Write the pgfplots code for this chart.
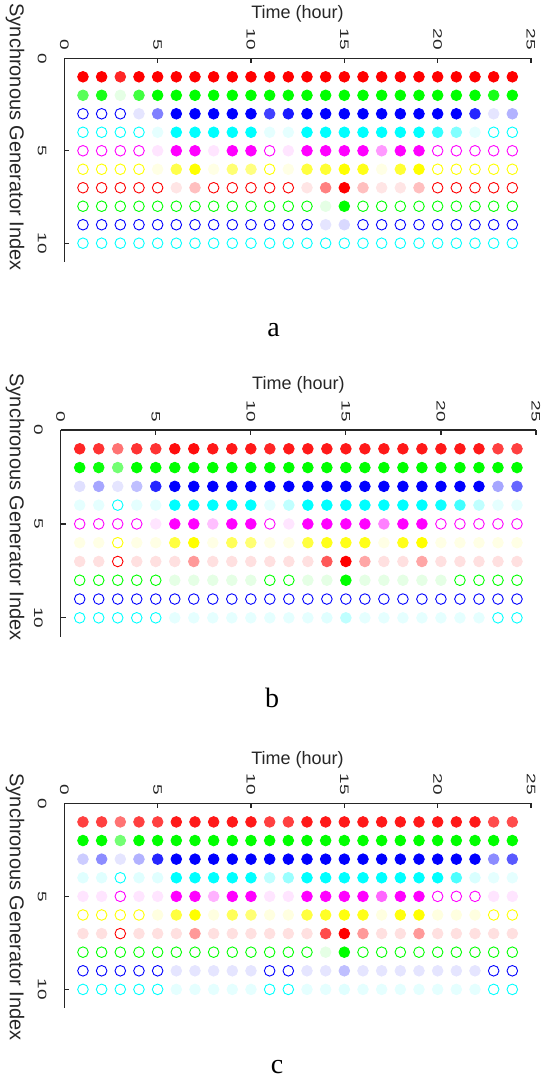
\documentclass[border=0pt]{standalone}
\usepackage{pgfplots}
\pgfplotsset{compat=1.18}
\usepackage{pgfplotstable}
\usepackage{fontspec}
\setmainfont{Liberation Sans}
\newfontfamily\serif{Liberation Serif}

\definecolor{gc1}{rgb}{1,0,0}
\definecolor{gc2}{rgb}{0,1,0}
\definecolor{gc3}{rgb}{0,0,1}
\definecolor{gc4}{rgb}{0,1,1}
\definecolor{gc5}{rgb}{1,0,1}
\definecolor{gc6}{rgb}{1,1,0}
\definecolor{gc7}{rgb}{1,0,0}
\definecolor{gc8}{rgb}{0,1,0}
\definecolor{gc9}{rgb}{0,0,1}
\definecolor{gc10}{rgb}{0,1,1}
\colorlet{axc}{black!85}

% output level in percent, 0 = unit off (open circle)
\pgfplotstableread{
h  g1  g2  g3  g4  g5  g6  g7  g8  g9  g10
1  100 65  0   0   0   0   0   0   0   0
2  100 90  0   0   0   0   0   0   0   0
3  85  10  0   0   0   0   0   0   0   0
4  100 75  10  0   0   0   0   0   0   0
5  100 100 50  10  10  10  0   0   0   0
6  100 100 100 100 100 70  10  0   0   0
7  100 100 100 100 100 100 25  0   0   0
8  100 100 100 100 10  10  0   0   0   0
9  100 100 100 100 100 55  0   0   0   0
10 100 100 100 100 100 50  0   0   0   0
11 100 100 75  10  0   0   0   0   0   0
12 100 100 90  10  10  10  0   0   0   0
13 100 100 100 100 100 75  10  0   0   0
14 100 100 100 100 100 80  50  10  10  0
15 100 100 100 100 100 100 100 100 15  0
16 100 100 100 100 100 90  25  0   0   0
17 100 100 100 100 40  10  10  0   0   0
18 100 100 100 100 100 80  10  0   0   0
19 100 100 100 100 100 100 25  0   0   0
20 100 100 100 80  0   0   0   0   0   0
21 100 100 100 50  0   0   0   0   0   0
22 100 100 85  10  0   0   0   0   0   0
23 100 90  10  0   0   0   0   0   0   0
24 100 100 30  0   0   0   0   0   0   0
}\tablea

\pgfplotstableread{
h  g1  g2  g3  g4  g5  g6  g7  g8  g9  g10
1  85  100 12  10  0   10  12  0   0   0
2  80  95  35  10  0   10  12  0   0   0
3  55  55  10  0   0   0   0   0   0   0
4  80  100 25  10  0   10  12  0   0   0
5  80  100 85  10  10  10  12  0   0   0
6  95  100 100 100 100 75  12  10  0   10
7  95  100 100 100 100 100 40  10  0   10
8  90  100 100 100 25  10  12  10  0   10
9  90  100 100 100 100 65  12  10  0   10
10 90  100 100 100 100 55  12  10  0   10
11 85  100 100 10  0   10  12  0   0   10
12 90  100 100 25  10  10  12  0   0   10
13 90  100 100 100 100 75  12  10  0   10
14 90  100 100 100 100 90  65  10  0   12
15 90  100 100 100 100 90  100 100 0   25
16 90  100 100 100 100 90  35  10  0   10
17 90  100 100 100 50  10  12  10  0   10
18 90  100 100 100 100 90  12  10  0   10
19 90  100 100 100 100 100 35  10  0   10
20 90  100 100 95  0   10  12  10  0   10
21 90  100 100 75  0   10  12  0   0   10
22 90  100 100 25  0   10  12  0   0   10
23 75  100 35  10  0   10  12  0   0   0
24 75  100 60  10  0   10  12  0   0   0
}\tableb

\pgfplotstableread{
h  g1  g2  g3  g4  g5  g6  g7  g8  g9  g10
1  75  100 20  12  10  0   12  0   0   0
2  75  100 45  12  10  0   12  0   0   0
3  55  55  10  0   0   0   0   0   0   0
4  75  100 30  12  10  0   12  0   0   0
5  75  100 85  12  10  12  12  0   0   0
6  90  100 100 100 100 75  12  0   10  10
7  90  100 100 100 100 100 40  0   10  10
8  90  100 100 100 30  12  12  0   10  10
9  90  100 100 100 100 65  12  0   10  10
10 90  100 100 100 100 55  12  0   10  10
11 75  100 100 25  10  12  12  0   0   0
12 75  100 100 40  10  12  12  0   0   0
13 90  100 100 100 100 75  12  0   10  10
14 90  100 100 100 100 85  70  10  10  10
15 90  100 100 100 100 95  100 100 25  12
16 90  100 100 100 100 90  40  0   10  10
17 90  100 100 100 60  12  12  0   10  10
18 90  100 100 100 100 95  12  0   10  10
19 90  100 100 100 100 100 40  0   10  10
20 90  100 100 100 0   12  12  0   10  10
21 90  100 100 70  0   12  12  0   10  10
22 90  100 100 15  0   12  12  0   10  10
23 70  100 45  10  10  0   12  0   0   0
24 70  100 65  10  10  0   12  0   0   0
}\tablec

\pgfplotsset{
  gen/.style={
    only marks, scatter, mark=*, mark size=2.65pt, line width=0.45pt,
    point meta=\thisrow{g#1}, point meta min=0, point meta max=100,
    scatter/@pre marker code/.code={%
      \pgfmathtruncatemacro\pct{round(\pgfplotspointmetatransformed/10)}%
      \ifnum\pct>0
        \edef\markopts{fill=gc#1!\pct!white,draw=gc#1!\pct!white}%
      \else
        \edef\markopts{fill=white,draw=gc#1}%
      \fi
      \expandafter\scope\expandafter[\markopts]%
    },
    scatter/@post marker code/.code={\endscope},
  },
  panel/.style={
    scale only axis, anchor=north west,
    xmin=0, xmax=25, ymin=0, ymax=11, y dir=reverse,
    axis x line*=top, axis y line*=left,
    xtick={0,5,...,25}, ytick={0,5,10},
    tick align=inside, major tick length=2.5pt,
    axis line style={axc, line width=0.6pt},
    every tick/.style={axc, line width=0.6pt},
    /pgf/number format/assume math mode=true,
    tick label style={font=\fontsize{9.5}{10}\selectfont, text=axc, inner sep=0pt},
    xticklabel style={rotate=-90, yscale=0.65, anchor=east},
    yticklabel style={rotate=-90, yscale=0.65, anchor=north},
    xticklabel shift=4pt, yticklabel shift=8.8pt,
  },
}

\newcommand\gens[1]{%
  \pgfplotsinvokeforeach{1,...,10}{%
    \addplot[gen=##1] table[x=h, y expr=##1] {#1};
  }%
}

\begin{document}
\begin{tikzpicture}
\path[use as bounding box] (0pt,0pt) rectangle (271pt,-539pt);

\begin{axis}[panel, at={(32.15pt,-29.15pt)}, width=233.35pt, height=101.7pt]
\gens{\tablea}
\end{axis}

\begin{axis}[panel, at={(30.35pt,-215pt)}, width=237.65pt, height=103.3pt]
\gens{\tableb}
\end{axis}

\begin{axis}[panel, at={(32.15pt,-401.65pt)}, width=233.35pt, height=102.35pt]
\gens{\tablec}
\end{axis}

\begin{scope}[every node/.style={text=axc}]
\node[font=\fontsize{9}{10}\selectfont] at (148.75pt,-7pt) {Time (hour)};
\node[font=\fontsize{9}{10}\selectfont] at (149.2pt,-192.5pt) {Time (hour)};
\node[font=\fontsize{9}{10}\selectfont] at (148.75pt,-380pt) {Time (hour)};
\node[rotate=-90, font=\fontsize{10}{12}\selectfont] at (7.5pt,-68.5pt) {Synchronous Generator Index};
\node[rotate=-90, font=\fontsize{10}{12}\selectfont] at (7.5pt,-253.5pt) {Synchronous Generator Index};
\node[rotate=-90, font=\fontsize{10}{12}\selectfont] at (7.5pt,-453.5pt) {Synchronous Generator Index};
\end{scope}

\node[font=\serif\fontsize{14}{16}\selectfont, anchor=base, inner sep=0pt] at (136.75pt,-168.25pt) {a};
\node[font=\serif\fontsize{14}{16}\selectfont, anchor=base, inner sep=0pt] at (136pt,-353.5pt) {b};
\node[font=\serif\fontsize{14}{16}\selectfont, anchor=base, inner sep=0pt] at (138.5pt,-536.5pt) {c};
\end{tikzpicture}
\end{document}
